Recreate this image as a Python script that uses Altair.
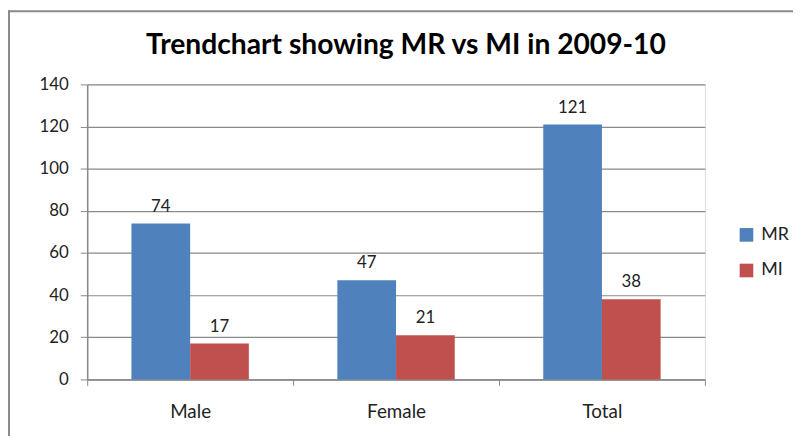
import altair as alt
import pandas as pd

categories = ["Male", "Female", "Total"]
series = ["MR", "MI"]
mr_values = [74, 47, 121]
mi_values = [17, 21, 38]
colors = ["#4F81BD", "#C0504D"]
title_text = "Trendchart showing MR vs MI in 2009-10"

rows = []
for c, a, b in zip(categories, mr_values, mi_values):
    rows.append({"cat": c, "series": "MR", "value": a})
    rows.append({"cat": c, "series": "MI", "value": b})
df = pd.DataFrame(rows)

FONT = "Lato"

x = alt.X("cat:N", sort=categories, title=None,
          scale=alt.Scale(paddingInner=0, paddingOuter=0),
          axis=alt.Axis(labelAngle=0, tickBand="extent", domainColor="#888888",
                        tickColor="#888888", tickSize=6, labelPadding=18,
                        labelFontSize=19, labelColor="#222222", labelFont=FONT,
                        domainWidth=1.5))
xoff = alt.XOffset("series:N", sort=series,
                   scale=alt.Scale(paddingInner=0, paddingOuter=0.754))
y = alt.Y("value:Q", title=None,
          scale=alt.Scale(domain=[0, 140]),
          axis=alt.Axis(values=list(range(0, 141, 20)), gridColor="#8a8a8a",
                        domainColor="#888888", tickColor="#888888", tickSize=7,
                        labelPadding=12, labelFontSize=17, labelColor="#222222",
                        labelFont=FONT, domainWidth=1.5, gridWidth=1.2))

bars = alt.Chart(df).mark_bar(stroke=None).encode(
    x=x, xOffset=xoff, y=y,
    color=alt.Color("series:N", sort=series,
                    scale=alt.Scale(domain=series, range=colors),
                    legend=alt.Legend(title=None, orient="none", legendX=657, legendY=143,
                                      symbolType="square", symbolSize=190,
                                      symbolStrokeWidth=0, labelFontSize=18,
                                      labelFont=FONT, labelColor="#222222",
                                      rowPadding=18, labelOffset=6, padding=0)),
)

labels = alt.Chart(df).mark_text(baseline="bottom", dy=-8, fontSize=17,
                                 font=FONT, color="#222222").encode(
    x=alt.X("cat:N", sort=categories), xOffset=alt.XOffset("series:N", sort=series),
    y="value:Q", text="value:Q")

title = alt.Chart(alt.Data(values=[{"t": title_text}])).mark_text(
    fontSize=28.5, font=FONT, fontWeight="bold", color="#000000",
    align="center", baseline="middle").encode(
    x=alt.value(322), y=alt.value(-40), text="t:N")

border_left = alt.Chart(alt.Data(values=[{}])).mark_rule(color="#8a8a8a", strokeWidth=2).encode(
    x=alt.value(-79), y=alt.value(-75), y2=alt.value(400))
border_top = alt.Chart(alt.Data(values=[{}])).mark_rule(color="#8a8a8a", strokeWidth=2).encode(
    x=alt.value(-80), x2=alt.value(720), y=alt.value(-74))

chart = alt.layer(bars, labels, title, border_left, border_top).properties(
    width=624, height=298,
    autosize=alt.AutoSizeParams(type="none"),
    padding={"left": 80, "top": 75, "right": 89, "bottom": 55},
).configure_view(stroke=None).configure(background="white")

chart.save("out.html", embed_options={"renderer": "svg", "actions": False})
